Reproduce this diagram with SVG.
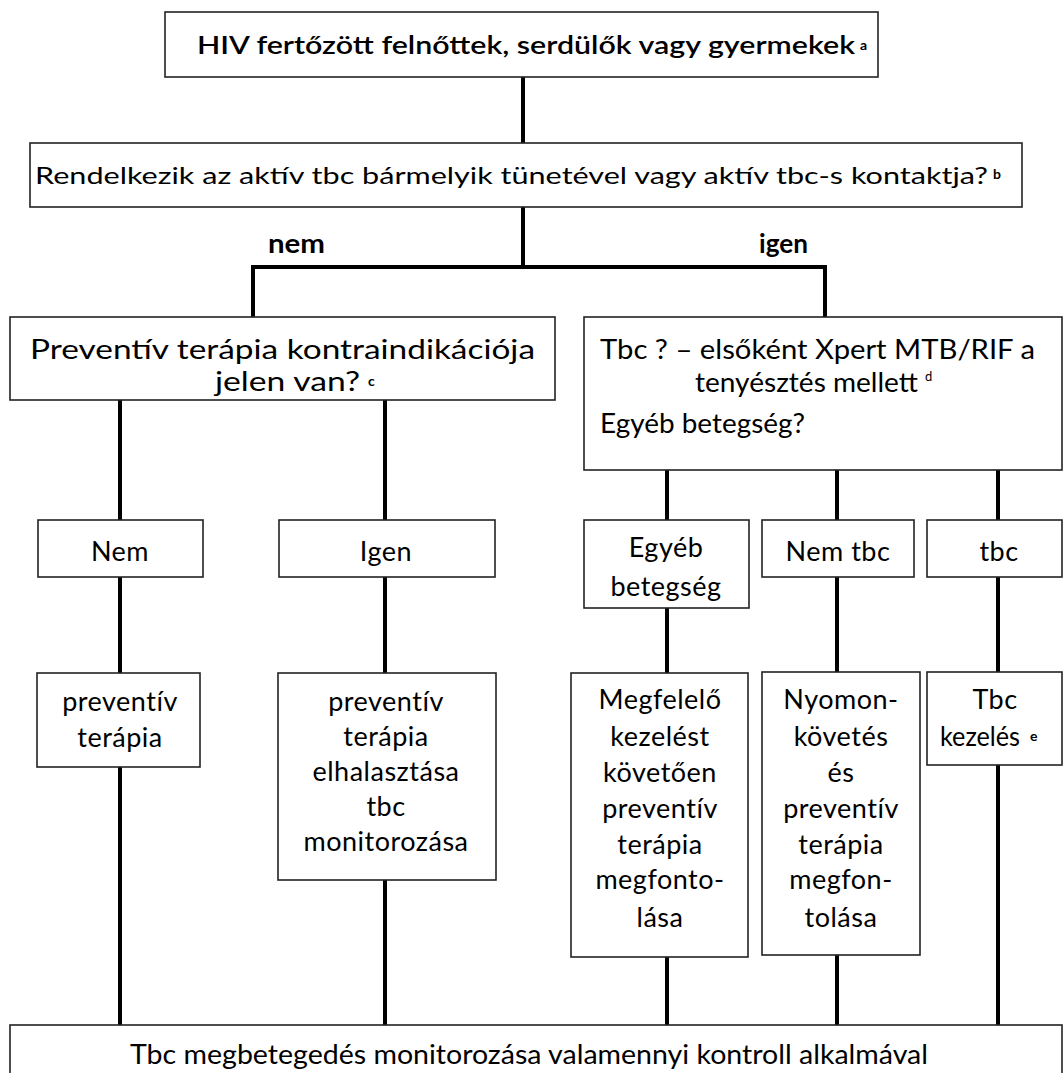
<svg xmlns="http://www.w3.org/2000/svg" width="1063" height="1073" viewBox="0 0 1063 1073">
<style>
.box{fill:#fff;stroke:#222;stroke-width:1.6}
.ln{stroke:#000;stroke-width:4;fill:none}
text{font-family:Lato,"Liberation Sans",sans-serif;fill:#000}
.t{font-size:27px;letter-spacing:0.5px}
.c{text-anchor:middle}
.b{font-weight:bold;font-size:26px}
.sup{font-size:14px;font-weight:bold;letter-spacing:0}
</style>
<rect width="1063" height="1073" fill="#fff"/>
<g id="connectors">
<path class="ln" d="M523 77V143M523 207V267M253 267H825M253 265V317M825 265V317"/>
<path class="ln" d="M120 400V520M385 400V520M667 470V520M837 470V520M998 470V520"/>
<path class="ln" d="M120 577V673M385 577V673M667 608V673M837 577V672M998 577V672"/>
<path class="ln" d="M120 767V1025M385 880V1025M667 957V1025M837 955V1025M998 765V1025"/>
</g>
<g id="n1"><rect class="box" x="165" y="12" width="713" height="65"/>
<text x="197" y="54" font-size="25" font-weight="600" textLength="658" lengthAdjust="spacingAndGlyphs">HIV fertőzött felnőttek, serdülők vagy gyermekek</text><text class="sup" x="860" y="50">a</text></g>
<g id="n2"><rect class="box" x="30" y="143" width="992" height="64"/>
<text x="35" y="184" font-size="24" textLength="953" lengthAdjust="spacingAndGlyphs">Rendelkezik az aktív tbc bármelyik tünetével vagy aktív tbc-s kontaktja?</text><text class="sup" x="993" y="179">b</text></g>
<g id="lbl-nem"><text class="b" x="268" y="253" textLength="57" lengthAdjust="spacingAndGlyphs">nem</text></g>
<g id="lbl-igen"><text class="b" x="759" y="253" textLength="49" lengthAdjust="spacingAndGlyphs">igen</text></g>
<g id="n3"><rect class="box" x="10" y="317" width="545" height="83"/>
<text x="30" y="359" font-size="27" textLength="505" lengthAdjust="spacingAndGlyphs">Preventív terápia kontraindikációja</text>
<text x="215" y="391" font-size="27" textLength="145" lengthAdjust="spacingAndGlyphs">jelen van?</text><text class="sup" x="368" y="386">c</text></g>
<g id="n4"><rect class="box" x="584" y="317" width="478" height="153"/>
<text x="600" y="359" font-size="27" textLength="435" lengthAdjust="spacingAndGlyphs">Tbc ? – elsőként  Xpert MTB/RIF a</text>
<text x="695" y="392" font-size="27" textLength="223" lengthAdjust="spacingAndGlyphs">tenyésztés mellett</text><text x="925" y="381" font-size="13">d</text>
<text x="600" y="433" font-size="27" textLength="205" lengthAdjust="spacingAndGlyphs">Egyéb betegség?</text></g>
<g id="n5"><rect class="box" x="38" y="520" width="165" height="57"/><text class="t c" x="120" y="561">Nem</text></g>
<g id="n6"><rect class="box" x="279" y="520" width="216" height="57"/><text class="t c" x="386" y="561">Igen</text></g>
<g id="n7"><rect class="box" x="584" y="520" width="165" height="88"/><text class="t c" x="666" y="557">Egyéb</text><text class="t c" x="666" y="596">betegség</text></g>
<g id="n8"><rect class="box" x="762" y="520" width="152" height="57"/><text class="t c" x="838" y="561">Nem tbc</text></g>
<g id="n9"><rect class="box" x="927" y="520" width="135" height="57"/><text class="t c" x="999" y="561">tbc</text></g>
<g id="n10"><rect class="box" x="37" y="673" width="163" height="94"/>
<text class="t c" x="120" y="711">preventív</text><text class="t c" x="120" y="747">terápia</text></g>
<g id="n11"><rect class="box" x="278" y="673" width="218" height="207"/>
<text class="t c" x="386" y="711">preventív</text><text class="t c" x="386" y="746">terápia</text><text class="t c" x="386" y="781">elhalasztása</text><text class="t c" x="386" y="816">tbc</text><text class="t c" x="386" y="851">monitorozása</text></g>
<g id="n12"><rect class="box" x="571" y="673" width="177" height="284"/>
<text class="t c" x="660" y="709">Megfelelő</text><text class="t c" x="660" y="746">kezelést</text><text class="t c" x="660" y="782">követően</text><text class="t c" x="660" y="818">preventív</text><text class="t c" x="660" y="854">terápia</text><text class="t c" x="660" y="889">megfonto-</text><text class="t c" x="660" y="927">lása</text></g>
<g id="n13"><rect class="box" x="762" y="672" width="158" height="283"/>
<text class="t c" x="841" y="709">Nyomon-</text><text class="t c" x="841" y="746">követés</text><text class="t c" x="841" y="782">és</text><text class="t c" x="841" y="818">preventív</text><text class="t c" x="841" y="854">terápia</text><text class="t c" x="841" y="889">megfon-</text><text class="t c" x="841" y="927">tolása</text></g>
<g id="n14"><rect class="box" x="927" y="672" width="135" height="93"/>
<text class="t c" x="995" y="709">Tbc</text><text x="940" y="746" font-size="26" textLength="80" lengthAdjust="spacingAndGlyphs">kezelés</text><text class="sup" x="1030" y="741">e</text></g>
<g id="n15"><rect class="box" x="10" y="1025" width="1052" height="60"/>
<text x="130" y="1064" font-size="27" textLength="798" lengthAdjust="spacingAndGlyphs">Tbc megbetegedés monitorozása valamennyi kontroll alkalmával</text></g>
</svg>
